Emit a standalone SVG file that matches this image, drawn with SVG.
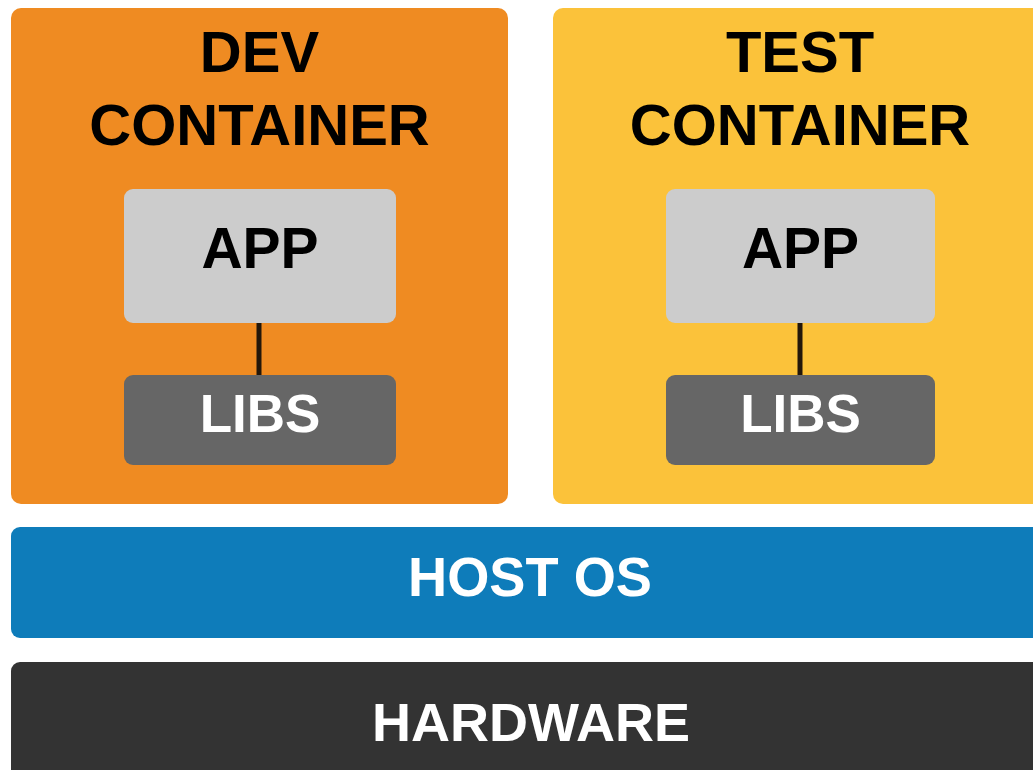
<svg xmlns="http://www.w3.org/2000/svg" width="1033" height="770" viewBox="0 0 1033 770">
<style>
.t{font-family:"Liberation Sans",Arial,sans-serif;font-weight:bold;text-anchor:middle}
.dark{fill:#000000}
.light{fill:#ffffff}
.app{fill:#cccccc}
.libs{fill:#666666}
.conn{stroke:#23170a;stroke-width:5}
</style>
<rect width="1033" height="770" fill="#ffffff"/>
<g id="dev-container">
<rect x="11" y="8" width="497" height="496" rx="10" fill="#ef8b22"/>
<text class="t dark" x="259.5" y="72" font-size="58">DEV</text>
<text class="t dark" x="259.5" y="145" font-size="58">CONTAINER</text>
</g>
<g id="test-container">
<rect x="553" y="8" width="494" height="496" rx="10" fill="#fbc23a"/>
<text class="t dark" x="800" y="72" font-size="58">TEST</text>
<text class="t dark" x="800" y="145" font-size="58">CONTAINER</text>
</g>
<g id="connectors">
<line class="conn" x1="259" y1="323" x2="259" y2="375"/>
<line class="conn" x1="800" y1="323" x2="800" y2="375"/>
</g>
<g id="dev-app">
<rect class="app" x="124" y="189" width="272" height="134" rx="9"/>
<text class="t dark" x="260" y="268" font-size="57">APP</text>
</g>
<g id="dev-libs">
<rect class="libs" x="124" y="375" width="272" height="90" rx="9"/>
<text class="t light" x="260" y="432" font-size="53">LIBS</text>
</g>
<g id="test-app">
<rect class="app" x="666" y="189" width="269" height="134" rx="9"/>
<text class="t dark" x="800.5" y="268" font-size="57">APP</text>
</g>
<g id="test-libs">
<rect class="libs" x="666" y="375" width="269" height="90" rx="9"/>
<text class="t light" x="800.5" y="432" font-size="53">LIBS</text>
</g>
<g id="host-os">
<rect x="11" y="527" width="1040" height="111" rx="9" fill="#0e7cba"/>
<text class="t light" x="530" y="596" font-size="55" textLength="244" lengthAdjust="spacingAndGlyphs">HOST OS</text>
</g>
<g id="hardware">
<rect x="11" y="662" width="1040" height="120" rx="9" fill="#333333"/>
<text class="t light" x="531" y="741" font-size="54">HARDWARE</text>
</g>
</svg>
